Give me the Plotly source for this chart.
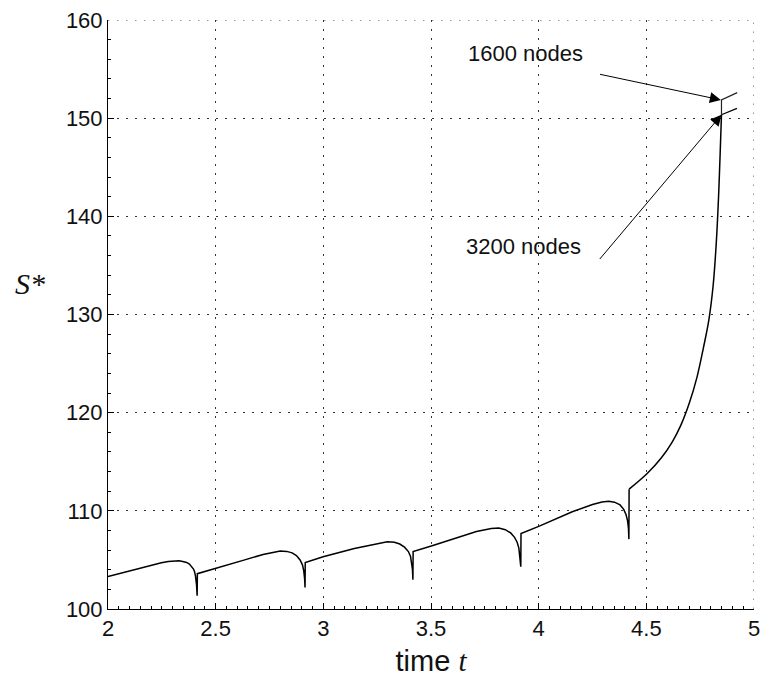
import plotly.graph_objects as go

# S* against time, periodic part (saw-tooth growth with sharp dips)
t_cycles = [2.000, 2.094, 2.186, 2.248, 2.280, 2.309, 2.330, 2.347, 2.365, 2.378, 2.388, 2.397,
            2.402, 2.406, 2.411, 2.414,
            2.415, 2.500, 2.631, 2.720, 2.769, 2.800, 2.830, 2.855, 2.875, 2.892, 2.903,
            2.909, 2.913, 2.915,
            2.916, 2.999, 3.144, 3.250, 3.297, 3.330, 3.355, 3.377, 3.395, 3.405, 3.411,
            3.414, 3.416,
            3.417, 3.505, 3.620, 3.711, 3.780, 3.815, 3.845, 3.870, 3.888, 3.900, 3.908,
            3.913, 3.917,
            3.918, 4.003, 4.156, 4.250, 4.294, 4.325, 4.352, 4.378, 4.395, 4.406, 4.413,
            4.417, 4.419, 4.420]
s_cycles = [103.30, 103.85, 104.40, 104.71, 104.85, 104.91, 104.92, 104.84, 104.74, 104.58, 104.36, 104.07,
            103.80, 103.39, 102.50, 101.35,
            103.60, 104.17, 104.98, 105.56, 105.80, 105.90, 105.87, 105.72, 105.45, 105.00, 104.50,
            103.90, 103.10, 102.20,
            104.74, 105.32, 106.17, 106.68, 106.84, 106.80, 106.62, 106.30, 105.85, 105.35, 104.70,
            104.00, 102.98,
            105.86, 106.44, 107.30, 107.90, 108.20, 108.24, 108.08, 107.75, 107.30, 106.80, 106.20,
            105.40, 104.30,
            107.69, 108.44, 109.90, 110.65, 110.90, 110.97, 110.88, 110.60, 110.15, 109.60, 108.98,
            108.20, 107.12, 112.21]

# blow-up after the last dip (3200 nodes)
t_blowup = [4.420, 4.504, 4.570, 4.620, 4.660, 4.700, 4.735, 4.765, 4.790, 4.810,
            4.824, 4.835, 4.843, 4.849, 4.921]
s_blowup = [112.21, 113.80, 115.40, 117.00, 118.70, 121.00, 123.60, 126.60, 129.40, 132.90,
            137.00, 141.80, 146.50, 150.35, 151.00]

# The 1600-node run leaves the common curve at the top and ends slightly higher
t_1600 = [4.849, 4.849, 4.922]
s_1600 = [150.35, 151.86, 152.60]

x_ticks = [2, 2.5, 3, 3.5, 4, 4.5, 5]
x_labels = ["2", "2.5", "3", "3.5", "4", "4.5", "5"]
y_ticks = [100, 110, 120, 130, 140, 150, 160]

labels = ["1600 nodes", "3200 nodes"]
label_pos = [(3.941, 156.6), (3.928, 136.9)]
arrow_tail = [(4.278, 154.5), (4.278, 135.5)]
arrow_tip = [(4.846, 151.86), (4.849, 150.35)]

SANS = "Liberation Sans, Arial, Helvetica, sans-serif"
SERIF = "Liberation Serif, Times New Roman, serif"
GRID_DASH = "1.5px,7.5px"
GRID_COLOR = "#333333"

fig = go.Figure()
fig.add_trace(go.Scatter(x=t_cycles, y=s_cycles, mode="lines",
                         line=dict(color="black", width=1.5), showlegend=False))
fig.add_trace(go.Scatter(x=t_blowup[:-1], y=s_blowup[:-1], mode="lines",
                         line=dict(color="black", width=1.5, shape="spline", smoothing=1),
                         showlegend=False))
fig.add_trace(go.Scatter(x=t_blowup[-2:], y=s_blowup[-2:], mode="lines",
                         line=dict(color="black", width=1.3), showlegend=False))
fig.add_trace(go.Scatter(x=t_1600, y=s_1600, mode="lines",
                         line=dict(color="#222222", width=1.2), showlegend=False))

for (tx, ty), (hx, hy) in zip(arrow_tail, arrow_tip):
    fig.add_annotation(x=hx, y=hy, ax=tx, ay=ty, xref="x", yref="y", axref="x", ayref="y",
                       text="", showarrow=True, arrowhead=2, arrowsize=2.2, arrowwidth=1,
                       arrowcolor="black", standoff=0)
for txt, (lx, ly) in zip(labels, label_pos):
    fig.add_annotation(x=lx, y=ly, xref="x", yref="y", text=txt, showarrow=False,
                       font=dict(family=SANS, size=22, color="#111111"),
                       xanchor="center", yanchor="middle")

fig.add_annotation(x=-0.121, y=0.553, xref="paper", yref="paper", text="<i>S*</i>",
                   showarrow=False, font=dict(family=SERIF, size=30, color="#111111"),
                   xanchor="center", yanchor="middle")

# dotted grid lines along the top and right borders
fig.add_shape(type="line", xref="x", yref="paper", x0=5, x1=5, y0=0, y1=1, layer="below",
              line=dict(color=GRID_COLOR, width=1, dash=GRID_DASH))
fig.add_shape(type="line", xref="paper", yref="y", x0=0, x1=1, y0=160, y1=160, layer="below",
              line=dict(color=GRID_COLOR, width=1, dash=GRID_DASH))

axis_common = dict(
    showline=True, linecolor="black", linewidth=1, mirror=False,
    ticks="inside", ticklen=6, tickcolor="black", tickwidth=1,
    showgrid=True, gridcolor=GRID_COLOR, gridwidth=1, griddash=GRID_DASH,
    zeroline=False, tickfont=dict(family=SANS, size=22, color="#111111"),
)

fig.update_xaxes(range=[2, 5], tickvals=x_ticks, ticktext=x_labels,
                 minor=dict(ticks="inside", ticklen=3, dtick=0.05, tickcolor="black", showgrid=False),
                 title=dict(text="time <span style='font-family:Liberation Serif'><i>t</i></span>",
                            font=dict(family=SANS, size=29, color="#111111"), standoff=10),
                 **axis_common)
fig.update_yaxes(range=[100, 160], tickvals=y_ticks,
                 minor=dict(ticks="inside", ticklen=3, dtick=2, tickcolor="black", showgrid=False),
                 **axis_common)

fig.update_layout(width=768, height=684, margin=dict(l=108, r=8, t=20, b=75),
                  plot_bgcolor="white", paper_bgcolor="white")

fig.write_html("out.html")
